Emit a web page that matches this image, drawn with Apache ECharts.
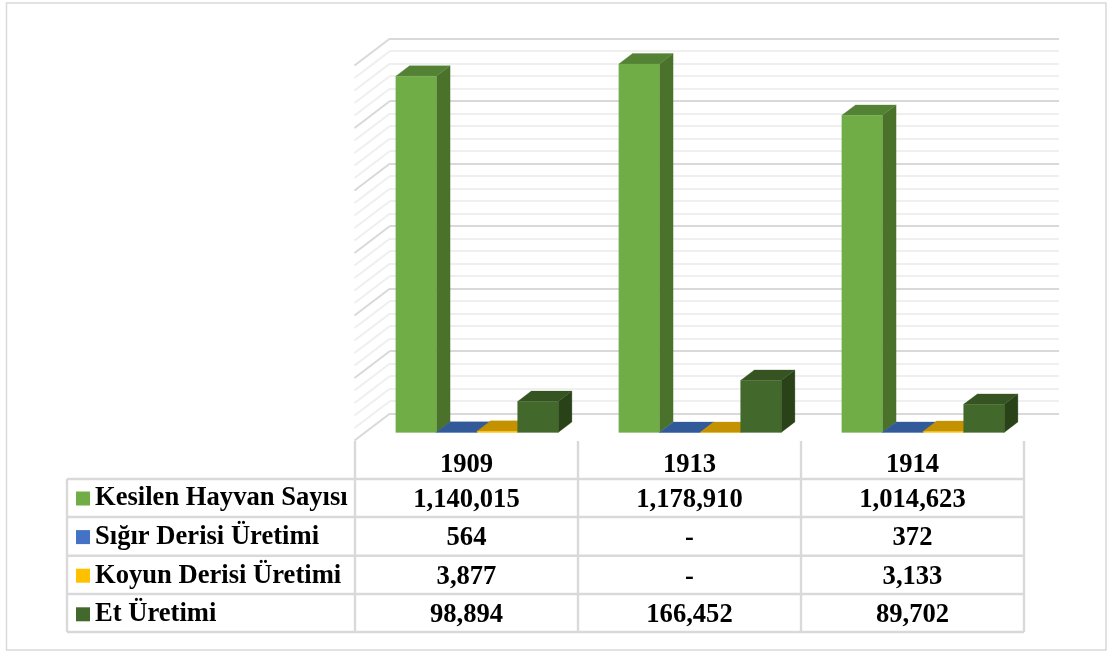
<!DOCTYPE html>
<html><head><meta charset="utf-8">
<style>html,body{margin:0;padding:0;background:#fff}#c{width:1107px;height:651px}</style>
<script src="https://cdn.jsdelivr.net/npm/echarts@6/dist/echarts.min.js"></script>
</head><body><div id="c"></div>
<script>
const years = ['1909', '1913', '1914'];
const seriesNames = ['Kesilen Hayvan Sayısı', 'Sığır Derisi Üretimi', 'Koyun Derisi Üretimi', 'Et Üretimi'];
const kesilenHayvan = [1140015, 1178910, 1014623];
const sigirDerisi = [564, 0, 372];
const koyunDerisi = [3877, 0, 3133];
const etUretimi = [98894, 166452, 89702];
const allValues = [kesilenHayvan, sigirDerisi, koyunDerisi, etUretimi];

const faceColors = [
  {front: '#70AD47', top: '#548235', side: '#4A722B'},
  {front: '#4472C4', top: '#335A98', side: '#2F5597'},
  {front: '#FFC000', top: '#C49200', side: '#A87C00'},
  {front: '#43682B', top: '#365422', side: '#2A4218'}
];
const serif = '"Liberation Serif","Times New Roman",serif';
const fontPx = 26.6;
const line = '#d9d9d9', minorLine = '#efefef';

// geometry of the pseudo-3D box
const depthX = 35.5, depthY = 27;
const planeX = 24.5, planeY = 18.9;      // bars' front face relative to back wall
const barW = 40.6, barDX = 13.7, barDY = 10.4;

const fmt = v => v === 0 ? '-' : v.toLocaleString('en-US');

const barSeries = seriesNames.map((name, s) => ({
  name, type: 'custom', coordinateSystem: 'cartesian2d', clip: false, z: 5,
  itemStyle: {color: faceColors[s].front},
  encode: {x: 0, y: 1},
  data: allValues[s].map((v, i) => [i, v]),
  renderItem(params, api) {
    const base = api.coord([api.value(0), 0]);
    const top = api.coord([api.value(0), api.value(1)]);
    const x0 = base[0] - planeX - 2 * barW + s * barW;
    const x1 = x0 + barW;
    const y0 = base[1] + planeY;
    const y1 = top[1] + planeY;
    const c = faceColors[s];
    const poly = (pts, fill) => ({type: 'polygon', shape: {points: pts}, style: {fill, stroke: fill, lineWidth: 0.3}});
    return {type: 'group', children: [
      poly([[x1, y1], [x1 + barDX, y1 - barDY], [x1 + barDX, y0 - barDY], [x1, y0]], c.side),
      poly([[x0, y1], [x1, y1], [x1 + barDX, y1 - barDY], [x0 + barDX, y1 - barDY]], c.top),
      poly([[x0, y1], [x1, y1], [x1, y0], [x0, y0]], c.front)
    ]};
  }
}));

// the receding lines on the left side wall, one for each gridline
const tickStep = 40000, majorStep = 200000, axisMax = 1200000;
const tickVals = [];
for (let v = 0; v <= axisMax; v += tickStep) tickVals.push(v);
const sideWall = {
  type: 'custom', coordinateSystem: 'cartesian2d', clip: false, z: 1, silent: true,
  tooltip: {show: false}, legendHoverLink: false,
  encode: {x: 0, y: 1},
  data: tickVals.map(v => [0, v]),
  renderItem(params, api) {
    const v = api.value(1);
    const p = api.coord([0, v]);
    const xs = api.size([1, 0])[0];
    const x = p[0] - xs / 2;
    return {type: 'line',
      shape: {x1: x, y1: p[1], x2: x - depthX, y2: p[1] + depthY},
      style: {stroke: v % majorStep === 0 ? line : minorLine, lineWidth: 2}};
  }
};

// data table under the plot
const colX = [355, 578, 801, 1024];
const rowY = [479, 517, 555.7, 594, 632];
const tableTop = 441, tableLeft = 67;
const gfx = [];
const hLine = (x1, x2, y) => gfx.push({type: 'line', silent: true, shape: {x1, y1: y, x2, y2: y}, style: {stroke: line, lineWidth: 2.4}});
const vLine = (x, y1, y2) => gfx.push({type: 'line', silent: true, shape: {x1: x, y1, x2: x, y2}, style: {stroke: line, lineWidth: 2.4}});
rowY.forEach(y => hLine(tableLeft, colX[3], y));
vLine(tableLeft, rowY[0], rowY[4]);
colX.forEach(x => vLine(x, tableTop, rowY[4]));
const cell = (text, x, y) => gfx.push({type: 'text', silent: true, z: 10, x, y,
  style: {text, fill: '#000', font: 'bold ' + fontPx + 'px ' + serif, textAlign: 'center', textVerticalAlign: 'middle'}});
years.forEach((yr, i) => {
  const cx = (colX[i] + colX[i + 1]) / 2;
  cell(yr, cx, 465);
  allValues.forEach((vals, r) => cell(fmt(vals[i]), cx, (rowY[r] + rowY[r + 1]) / 2 + 2));
});
gfx.push({type: 'rect', silent: true, shape: {x: 6.5, y: 3, width: 1099.5, height: 647}, style: {fill: 'none', stroke: line, lineWidth: 1.5}});

const chart = echarts.init(document.getElementById('c'), null, {renderer: 'canvas'});
chart.setOption({
  animation: false,
  backgroundColor: '#fff',
  grid: {left: 390, top: 38.5, width: 669, height: 375},
  legend: {
    left: 76, top: 485, padding: 0, orient: 'vertical', data: seriesNames, icon: 'rect',
    itemWidth: 14, itemHeight: 14, itemGap: 11.6, selectedMode: false,
    textStyle: {color: '#000', fontFamily: serif, fontWeight: 'bold', fontSize: fontPx}
  },
  xAxis: {type: 'category', data: years, show: false},
  yAxis: {
    type: 'value', min: 0, max: axisMax, interval: majorStep,
    axisLine: {show: false}, axisTick: {show: false}, axisLabel: {show: false},
    splitLine: {show: true, lineStyle: {color: line, width: 2}},
    minorTick: {show: false, splitNumber: 5},
    minorSplitLine: {show: true, lineStyle: {color: minorLine, width: 2}}
  },
  graphic: {elements: gfx},
  series: [sideWall].concat(barSeries)
});
</script></body></html>
